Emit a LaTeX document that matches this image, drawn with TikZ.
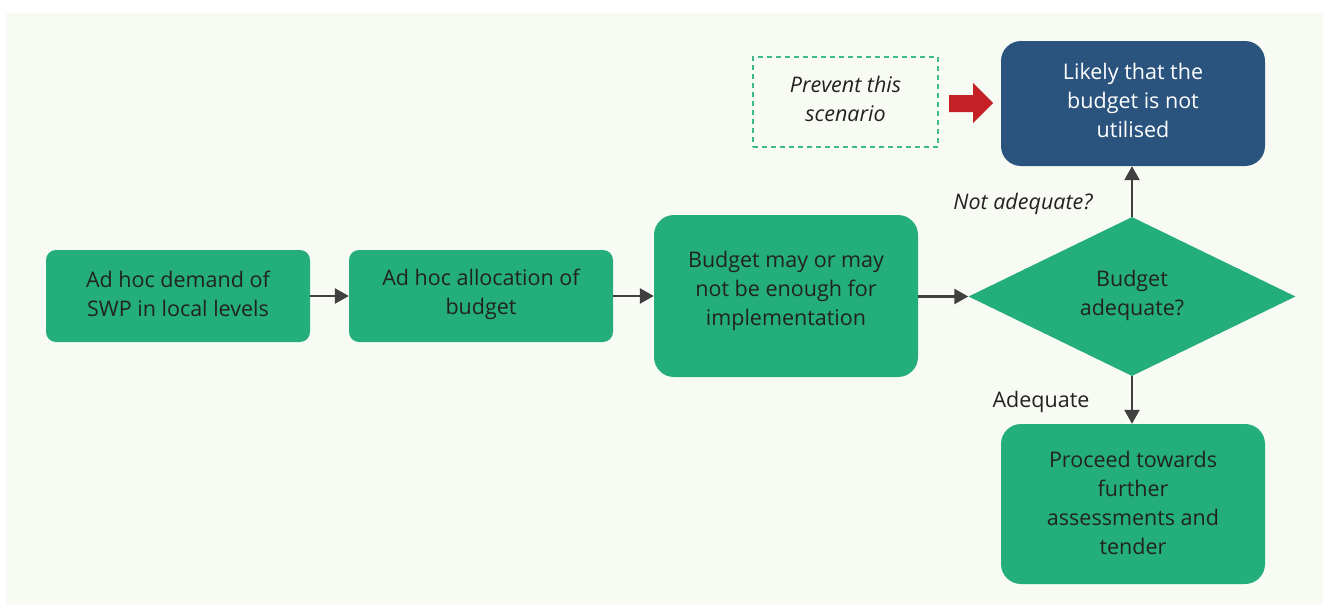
\documentclass[tikz,border=0pt]{standalone}
\usepackage{fontspec}
\setmainfont{Open Sans}
\usetikzlibrary{arrows.meta,shapes.geometric}
\definecolor{bgc}{HTML}{F8FAF4}
\definecolor{grn}{HTML}{23AE7B}
\definecolor{blu}{HTML}{2A547E}
\definecolor{txt}{HTML}{222222}
\definecolor{arr}{HTML}{404040}
\definecolor{redc}{HTML}{C42126}
\definecolor{dsh}{HTML}{3DBA8C}
\newcommand{\fsz}{\fontsize{21.5}{29}\selectfont}
\tikzset{
  box/.style={fill=grn, rounded corners=10pt, minimum width=264pt, minimum height=92pt, inner sep=0pt},
  bigbox/.style={box, rounded corners=20pt, minimum height=162pt},
  txtnode/.style={inner sep=0pt, align=center, text=txt, font=\fsz},
  flow/.style={draw=arr, line width=2.6pt, -{Triangle[length=14pt,width=15pt]}},
  lbl/.style={text=txt, font=\fsz, inner sep=0pt}
}
\begin{document}
\begin{tikzpicture}[x=1pt,y=-1pt]
\useasboundingbox (0,0) rectangle (1323,605);
\fill[white] (0,0) rectangle (1323,605);
\fill[bgc] (6,13) rectangle (1323,605);

\node[box] (a) at (178,296) {};
\node[txtnode] (at) at (178,294) {Ad hoc demand of\\SWP in local levels};
\node[box] (b) at (481,296) {};
\node[txtnode] (bt) at (481,294) {Ad hoc allocation of\\budget};
\node[bigbox] (c) at (786,296) {};
\node[txtnode] (ct) at (786,291) {Budget may or may\\not be enough for\\implementation};
\node[diamond, fill=grn, minimum width=327pt, minimum height=159pt, inner sep=0pt] (d) at (1132,296.5) {};
\node[txtnode] (dt) at (1132,295.5) {Budget\\adequate?};
\node[bigbox, fill=blu, minimum height=125pt] (e) at (1133,103.5) {};
\node[txtnode, text=white] (et) at (1133,100) {Likely that the\\budget is not\\utilised};
\node[bigbox, minimum height=160pt] (f) at (1133,504) {};
\node[txtnode] (ft) at (1133,503) {Proceed towards\\further\\assessments and\\tender};
\node[draw=dsh, dashed, dash pattern=on 5pt off 4pt, line width=1.3pt, minimum width=185pt, minimum height=90pt,
  inner sep=0pt] (p) at (845.5,102) {};
\node[txtnode, font=\fsz\itshape] (pt) at (845.5,99) {Prevent this\\scenario};

\fill[redc] (949,95) -- (973,95) -- (973,83) -- (993,103) -- (973,123) -- (973,112) -- (949,112) -- cycle;

\draw[flow] (a) -- (b);
\draw[flow] (b) -- (c);
\draw[flow] (c.east |- d.west) -- (d.west);
\draw[flow] (d.north) -- (d.north |- e.south);
\draw[flow] (d.south) -- (d.south |- f.north);

\node[lbl, font=\fsz\itshape] (na) at (1023,204) {Not adequate?};
\node[lbl] (ad) at (1041,402) {Adequate};
\end{tikzpicture}
\end{document}
